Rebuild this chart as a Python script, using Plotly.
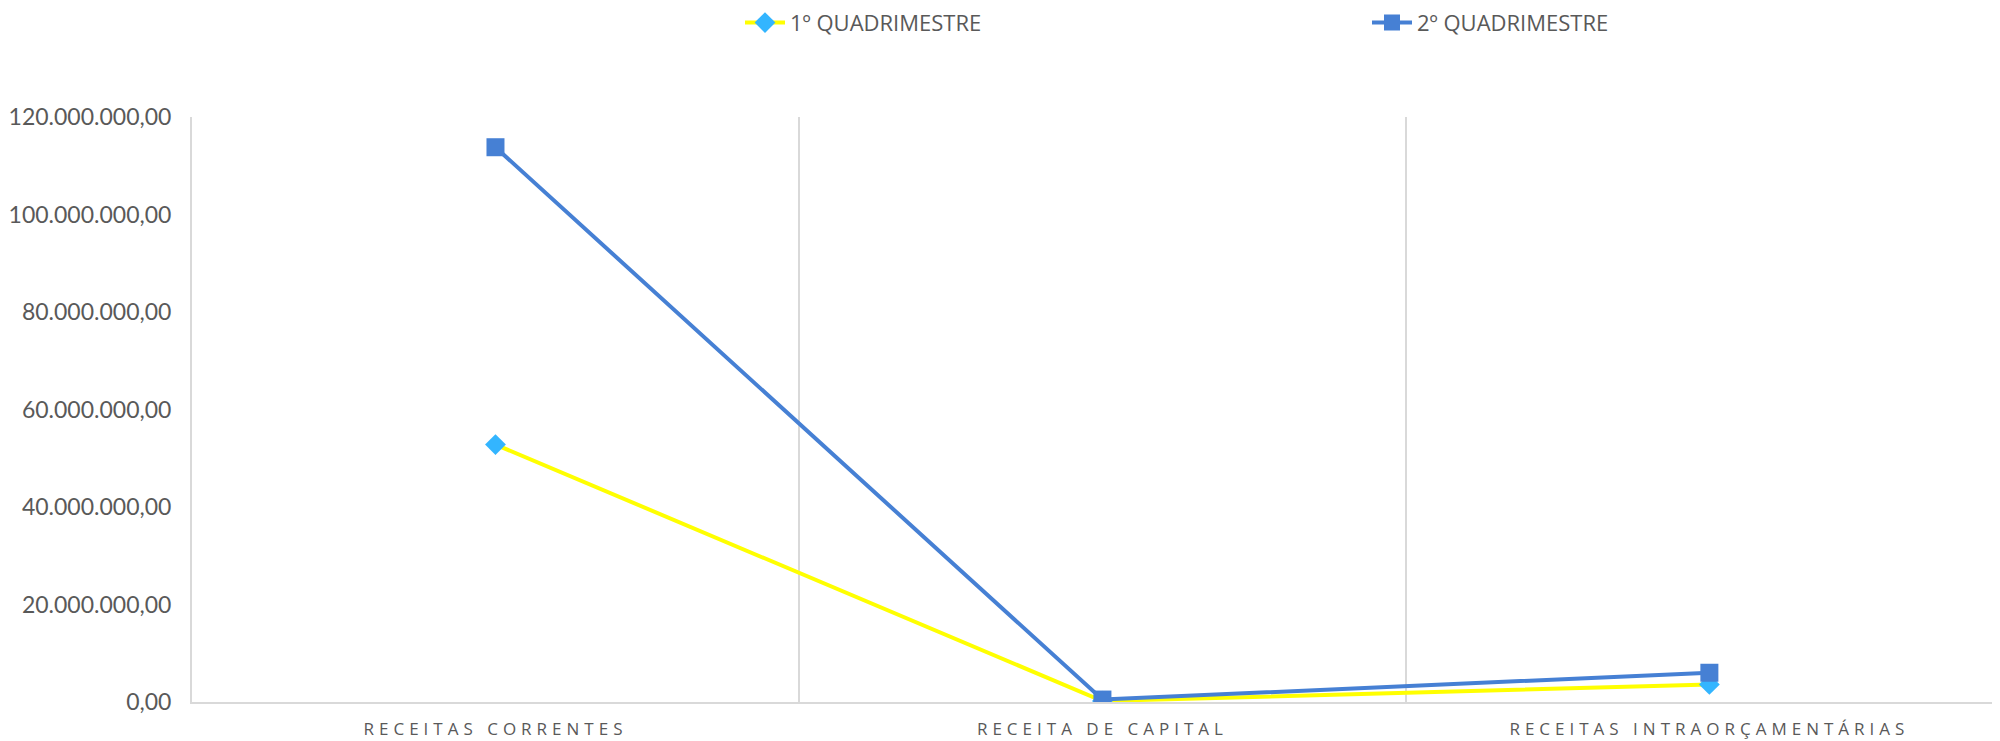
import plotly.graph_objects as go

categories = ["RECEITAS CORRENTES", "RECEITA DE CAPITAL", "RECEITAS INTRAORÇAMENTÁRIAS"]
q1_values = [52800000, 200000, 3600000]
q2_values = [113800000, 500000, 6000000]
y_ticks = [0, 20000000, 40000000, 60000000, 80000000, 100000000, 120000000]
y_tick_labels = ["0,00", "20.000.000,00", "40.000.000,00", "60.000.000,00",
                 "80.000.000,00", "100.000.000,00", "120.000.000,00"]

fig = go.Figure()
fig.add_trace(go.Scatter(
    x=categories, y=q1_values, name="1º QUADRIMESTRE", mode="lines+markers",
    line=dict(color="#FFFF00", width=4),
    marker=dict(symbol="diamond", size=16, color="#33B5FF"),
))
fig.add_trace(go.Scatter(
    x=categories, y=q2_values, name="2º QUADRIMESTRE", mode="lines+markers",
    line=dict(color="#4680D4", width=4),
    marker=dict(symbol="square", size=18, color="#4680D4"),
))

fig.update_layout(
    width=2000, height=741,
    margin=dict(l=184, r=0, t=109, b=47),
    paper_bgcolor="white", plot_bgcolor="white",
    font=dict(family="Open Sans", color="#595959"),
    showlegend=True,
    legend=dict(orientation="h", xref="container", yref="container",
                x=0.366, xanchor="left", y=0.980, yanchor="middle",
                entrywidth=572, entrywidthmode="pixels",
                font=dict(size=22, color="#595959"), itemwidth=40),
    xaxis=dict(
        type="category", range=[-0.5, 2.492], tickson="boundaries",
        tickvals=categories,
        ticktext=['<span style="letter-spacing:5px">%s</span>' % c for c in categories],
        showgrid=True, gridcolor="#D9D9D9", gridwidth=2,
        showline=True, linecolor="#D9D9D9", linewidth=2,
        ticks="", tickfont=dict(size=17, color="#595959", family="Open Sans"),
        ticklabelstandoff=11,
    ),
    yaxis=dict(
        range=[0, 120000000], tickvals=y_ticks, ticktext=y_tick_labels,
        showgrid=False, zeroline=False,
        showline=True, linecolor="#D9D9D9", linewidth=2,
        ticks="", tickfont=dict(size=23, color="#595959", family="Lato"),
        ticklabelstandoff=14,
    ),
)

fig.write_html("out.html")
